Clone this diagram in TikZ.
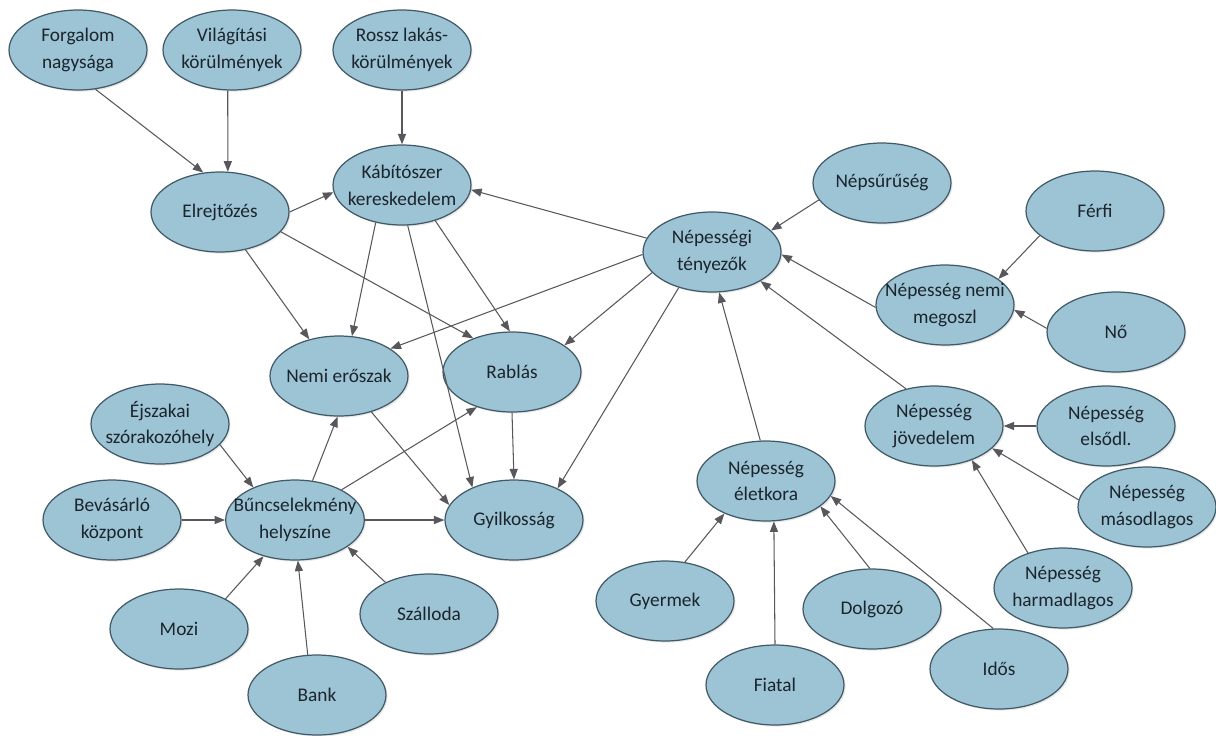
\documentclass[tikz,border=0pt]{standalone}
\usepackage{fontspec}
\setmainfont{Carlito}
\usetikzlibrary{arrows.meta,shapes.geometric,shadows}
\definecolor{bubfill}{RGB}{156,196,212}
\definecolor{bubline}{RGB}{66,90,104}
\definecolor{bubtext}{RGB}{28,36,46}
\definecolor{arrgray}{RGB}{88,88,92}
\tikzset{
  bub/.style={ellipse,draw=bubline,line width=0.7pt,fill=bubfill,text=bubtext,
    minimum width=2.76cm,minimum height=1.6cm,inner xsep=-7pt,inner ysep=0pt,
    align=center,font=\fontsize{11}{15.2}\selectfont,
    drop shadow={opacity=0.18,shadow xshift=0.9pt,shadow yshift=-0.9pt}},
  arr/.style={draw=arrgray,line width=0.6pt,-{Triangle[length=6pt,width=4.6pt]}}
}
\begin{document}
\begin{tikzpicture}[x=0.02cm,y=-0.02cm]
 \useasboundingbox (0,0) rectangle (1216,735);
 \node[bub] (forg) at (78,50) {Forgalom\\nagysága};
 \node[bub] (vilag) at (232,50) {Világítási\\körülmények};
 \node[bub] (rossz) at (402,50) {Rossz lakás-\\körülmények};
 \node[bub] (elrejt) at (220,212) {Elrejtőzés};
 \node[bub] (kabit) at (402,185) {Kábítószer\\kereskedelem};
 \node[bub] (nepes) at (712,252) {Népességi\\tényezők};
 \node[bub] (nepsur) at (882,183) {Népsűrűség};
 \node[bub] (ferfi) at (1095,211) {Férfi};
 \node[bub] (nemimeg) at (945,305) {Népesség nemi\\megoszl};
 \node[bub] (no) at (1116,332) {Nő};
 \node[bub] (nemier) at (339,376) {Nemi erőszak};
 \node[bub] (rablas) at (512,372) {Rablás};
 \node[bub] (ejsz) at (160,424) {Éjszakai\\szórakozóhely};
 \node[bub] (bevas) at (112,520) {Bevásárló\\központ};
 \node[bub] (bunc) at (295,520) {Bűncselekmény\\helyszíne};
 \node[bub] (gyilk) at (514,520) {Gyilkosság};
 \node[bub] (mozi) at (179,629) {Mozi};
 \node[bub] (bank) at (317,695) {Bank};
 \node[bub] (szall) at (429,614) {Szálloda};
 \node[bub] (eletk) at (766,481) {Népesség\\életkora};
 \node[bub] (gyerm) at (665,601) {Gyermek};
 \node[bub] (fiatal) at (775,685) {Fiatal};
 \node[bub] (dolg) at (872,609) {Dolgozó};
 \node[bub] (idos) at (999,669) {Idős};
 \node[bub] (jov) at (934,426) {Népesség\\jövedelem};
 \node[bub] (elso) at (1106,426) {Népesség\\elsődl.};
 \node[bub] (maso) at (1147,507) {Népesség\\másodlagos};
 \node[bub] (harm) at (1063,588) {Népesség\\harmadlagos};

 \draw[arr] (forg.-66) -- (elrejt.113);
 \draw[arr] (vilag.-96) -- (elrejt.79);
 \draw[arr] (rossz.south) -- (kabit.north);
 \draw[arr] (elrejt.0) -- (kabit.186);
 \draw[arr] (elrejt.-56) -- (nemier.129);
 \draw[arr] (elrejt.-18) -- (rablas.139);
 \draw[arr] (kabit.235) -- (nemier.72);
 \draw[arr] (kabit.-82) -- (gyilk.142);
 \draw[arr] (kabit.-47) -- (rablas.93);
 \draw[arr] (nepes.168) -- (kabit.-4);
 \draw[arr] (nepes.182) -- (nemier.28);
 \draw[arr] (nepes.199) -- (rablas.27);
 \draw[arr] (nepes.227) -- (gyilk.36);
 \draw[arr] (nepsur.195) -- (nepes.20);
 \draw[arr] (nemimeg.182) -- (nepes.-2);
 \draw[arr] (ferfi.204) -- (nemimeg.26);
 \draw[arr] (no.177) -- (nemimeg.-4);
 \draw[arr] (jov.127) -- (nepes.-31);
 \draw[arr] (eletk.98) -- (nepes.-80);
 \draw[arr] (elso.180) -- (jov.0);
 \draw[arr] (maso.174) -- (jov.-21);
 \draw[arr] (harm.135) -- (jov.-42);
 \draw[arr] (gyerm.63) -- (eletk.218);
 \draw[arr] (fiatal.90) -- (eletk.-79);
 \draw[arr] (dolg.93) -- (eletk.-25);
 \draw[arr] (idos.98) -- (eletk.-13);
 \draw[arr] (nemier.-48) -- (gyilk.167);
 \draw[arr] (rablas.south) -- (gyilk.north);
 \draw[arr] (bunc.66) -- (nemier.-92);
 \draw[arr] (bunc.33) -- (rablas.225);
 \draw[arr] (bunc.east) -- (gyilk.west);
 \draw[arr] (ejsz.-19) -- (bunc.142);
 \draw[arr] (bevas.east) -- (bunc.west);
 \draw[arr] (mozi.33) -- (bunc.229);
 \draw[arr] (bank.103) -- (bunc.-86);
 \draw[arr] (szall.144) -- (bunc.-27);
\end{tikzpicture}
\end{document}
